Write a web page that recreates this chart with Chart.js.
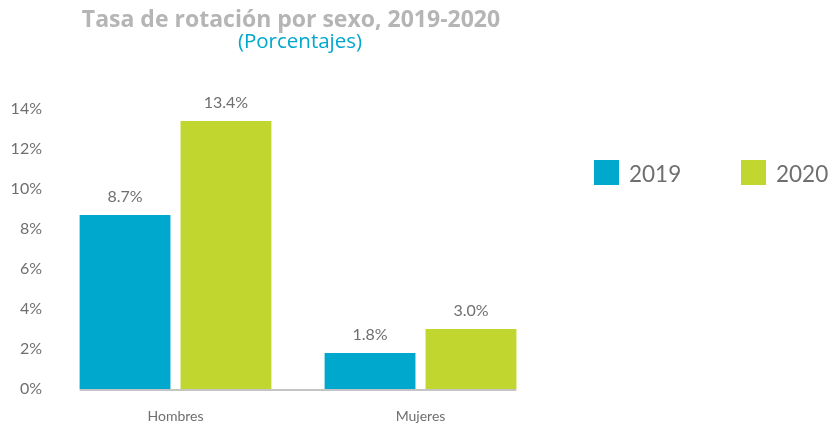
<!DOCTYPE html>
<html><head><meta charset="utf-8">
<script src="https://cdn.jsdelivr.net/npm/chart.js@4"></script>
<style>html,body{margin:0;padding:0;background:#fff}#wrap{width:833px;height:427px}</style>
</head><body><div id="wrap"><canvas id="c" width="833" height="427"></canvas></div>
<script>
const categories = ["Hombres", "Mujeres"];
const seriesNames = ["2019", "2020"];
const values2019 = [8.7, 1.8];
const values2020 = [13.4, 3.0];
const yTicks = [0, 2, 4, 6, 8, 10, 12, 14];
const titleText = "Tasa de rotación por sexo, 2019-2020";
const subtitleText = "(Porcentajes)";

const BLUE = "#00a8ce", GREEN = "#c1d72f", TXT = "#6f6f6f";
const FONT = "Lato, 'Open Sans', sans-serif";

const extras = {
  id: "extras",
  afterDatasetsDraw(chart) {
    const ctx = chart.ctx, area = chart.chartArea;
    ctx.save();
    const first = chart.getDatasetMeta(0).data[0];
    const lastMeta = chart.getDatasetMeta(chart.data.datasets.length - 1);
    const last = lastMeta.data[lastMeta.data.length - 1];
    ctx.strokeStyle = "#c4c4c4"; ctx.lineWidth = 2;
    ctx.beginPath();
    ctx.moveTo(first.x - first.width / 2, area.bottom + 1);
    ctx.lineTo(last.x + last.width / 2, area.bottom + 1);
    ctx.stroke();
    ctx.fillStyle = TXT; ctx.font = "16px " + FONT;
    ctx.textAlign = "center"; ctx.textBaseline = "middle";
    chart.data.datasets.forEach((ds, i) => {
      chart.getDatasetMeta(i).data.forEach((bar, j) => {
        ctx.fillText(ds.data[j].toFixed(1) + "%", bar.x, bar.y - 18);
      });
    });
    ctx.fillStyle = "#b5b5b5"; ctx.font = "bold 23px 'Open Sans', sans-serif";
    ctx.fillText(titleText, 291, 20);
    ctx.fillStyle = "#00a8ce"; ctx.font = "20.5px 'Open Sans', sans-serif";
    ctx.fillText(subtitleText, 300, 42);
    const lx = [594, 741];
    chart.data.datasets.forEach((ds, i) => {
      ctx.fillStyle = ds.backgroundColor;
      ctx.fillRect(lx[i], 160, 25, 25);
      ctx.fillStyle = TXT; ctx.font = "22.5px " + FONT;
      ctx.textAlign = "left";
      ctx.fillText(ds.label, lx[i] + 35, 175);
    });
    ctx.restore();
  }
};

new Chart(document.getElementById("c"), {
  type: "bar",
  data: {
    labels: categories,
    datasets: [
      { label: seriesNames[0], data: values2019, backgroundColor: BLUE },
      { label: seriesNames[1], data: values2020, backgroundColor: GREEN }
    ]
  },
  options: {
    responsive: false,
    animation: false,
    layout: { padding: { top: 109, right: 290, left: 0, bottom: 0 } },
    datasets: { bar: { categoryPercentage: 0.824, barPercentage: 0.9 } },
    plugins: { legend: { display: false }, title: { display: false }, tooltip: { enabled: false } },
    scales: {
      x: {
        grid: { display: false }, border: { display: false },
        ticks: { color: TXT, font: { family: FONT, size: 14 }, padding: 11 },
        afterFit(s) { s.height = 38; }
      },
      y: {
        min: 0, max: 14,
        grid: { display: false }, border: { display: false },
        afterBuildTicks(s) { s.ticks = yTicks.map(v => ({ value: v })); },
        ticks: { color: TXT, font: { family: FONT, size: 16 }, padding: 3, callback: v => v + "%" },
        afterFit(s) { s.width = 53; }
      }
    }
  },
  plugins: [extras]
});
</script></body></html>
